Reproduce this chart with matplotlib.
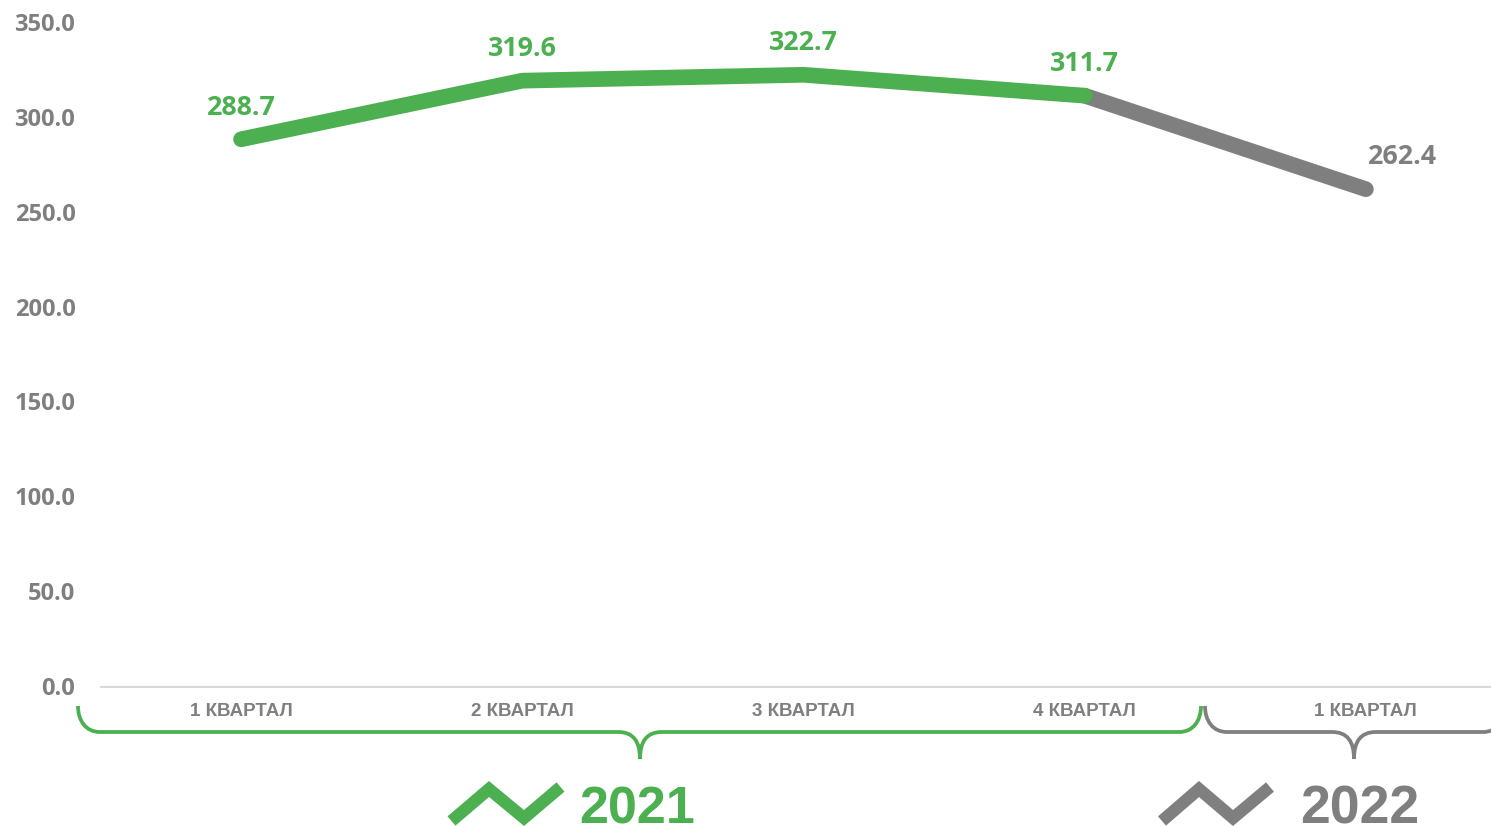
import numpy as np
import matplotlib
matplotlib.use('Agg')
import matplotlib.pyplot as plt
from matplotlib.path import Path
from matplotlib.patches import PathPatch
from matplotlib.lines import Line2D
from matplotlib.transforms import ScaledTranslation

quarters = ["1 КВАРТАЛ", "2 КВАРТАЛ", "3 КВАРТАЛ", "4 КВАРТАЛ", "1 КВАРТАЛ"]
values = [288.7, 319.6, 322.7, 311.7, 262.4]
yticks = [0, 50, 100, 150, 200, 250, 300, 350]
groups = ["2021", "2022"]

GREEN = "#4CAF50"
GRAY = "#7F7F7F"
W, H = 1491, 826

plt.rcParams['font.family'] = ['Open Sans', 'DejaVu Sans']

fig = plt.figure(figsize=(W / 100, H / 100), dpi=100)
# axes: y=0 at pixel 687, y=350 at pixel 23; x from 101 to 1491
ax = fig.add_axes([101 / W, 1 - 687 / H, (W - 101) / W, (687 - 23) / H])
ax.set_xlim(-0.498, 4.445)
ax.set_ylim(0, 350)
ax.patch.set_alpha(0)
for s in ["top", "right", "left"]:
    ax.spines[s].set_visible(False)
ax.spines["bottom"].set_color("#D9D9D9")
ax.spines["bottom"].set_linewidth(1.5)
ax.tick_params(length=0)
ax.set_yticks(yticks)
ax.set_yticklabels(["%.1f" % t for t in yticks], fontsize=17, fontweight="bold", color=GRAY)
ax.tick_params(axis="y", pad=18.5)
# labels sit a pixel above their tick in the reference
shift = ScaledTranslation(0, 1 / 100, fig.dpi_scale_trans)
for lab in ax.get_yticklabels():
    lab.set_transform(lab.get_transform() + shift)
ax.set_xticks(range(5))
ax.set_xticklabels(quarters, fontsize=13.5, fontweight="bold", color=GRAY,
                   family=["Liberation Sans"])
ax.tick_params(axis="x", pad=11.5)

x = np.arange(5)
ax.plot(x[3:], values[3:], color=GRAY, lw=11.3, solid_capstyle="round", solid_joinstyle="round", clip_on=False)
ax.plot(x[:4], values[:4], color=GREEN, lw=11.3, solid_capstyle="round", solid_joinstyle="round", clip_on=False)
cols = [GREEN, GREEN, GREEN, GREEN, GRAY]
for i, v in enumerate(values):
    dx = 0.13 if i == 4 else 0
    ax.annotate("%.1f" % v, (i + dx, v), xytext=(0, 13.5), textcoords="offset points",
                ha="center", va="bottom", fontsize=19.3, fontweight="bold", color=cols[i])

# overlay in pixel coordinates for braces and the group markers
ov = fig.add_axes([0, 0, 1, 1])
ov.set_xlim(0, W)
ov.set_ylim(H, 0)
ov.axis("off")
ov.patch.set_alpha(0)


def brace(x0, x1, xm, col):
    top, mid, tip, r = 706, 732, 759, 22
    verts = [(x0, top), (x0, top + 15), (x0 + 8, mid), (x0 + r, mid),
             (xm - r, mid), (xm - 7, mid), (xm, mid + 9), (xm, tip),
             (xm, mid + 9), (xm + 7, mid), (xm + r, mid),
             (x1 - r, mid), (x1 - 8, mid), (x1, top + 15), (x1, top)]
    codes = [Path.MOVETO, Path.CURVE4, Path.CURVE4, Path.CURVE4,
             Path.LINETO, Path.CURVE4, Path.CURVE4, Path.CURVE4,
             Path.CURVE4, Path.CURVE4, Path.CURVE4,
             Path.LINETO, Path.CURVE4, Path.CURVE4, Path.CURVE4]
    ov.add_patch(PathPatch(Path(verts, codes), fc="none", ec=col, lw=2.7,
                           capstyle="butt", clip_on=False))


brace(78, 1201, 640, GREEN)
brace(1205, 1505, 1354, GRAY)


def marker(xs, col):
    ys = [821, 789, 818, 787]
    ov.add_line(Line2D(xs, ys, color=col, lw=8.8, solid_joinstyle="miter", solid_capstyle="butt"))


marker([451.5, 489, 524, 560.5], GREEN)
marker([1162, 1199, 1233, 1270], GRAY)
ov.text(637.5, 823, groups[0], color=GREEN, fontsize=37.5, fontweight="bold", ha="center", va="baseline",
        family=["Liberation Sans"])
ov.text(1359.5, 823, groups[1], color=GRAY, fontsize=38.5, fontweight="bold", ha="center", va="baseline",
        family=["Liberation Sans"])

fig.savefig("out.png", dpi=100)
